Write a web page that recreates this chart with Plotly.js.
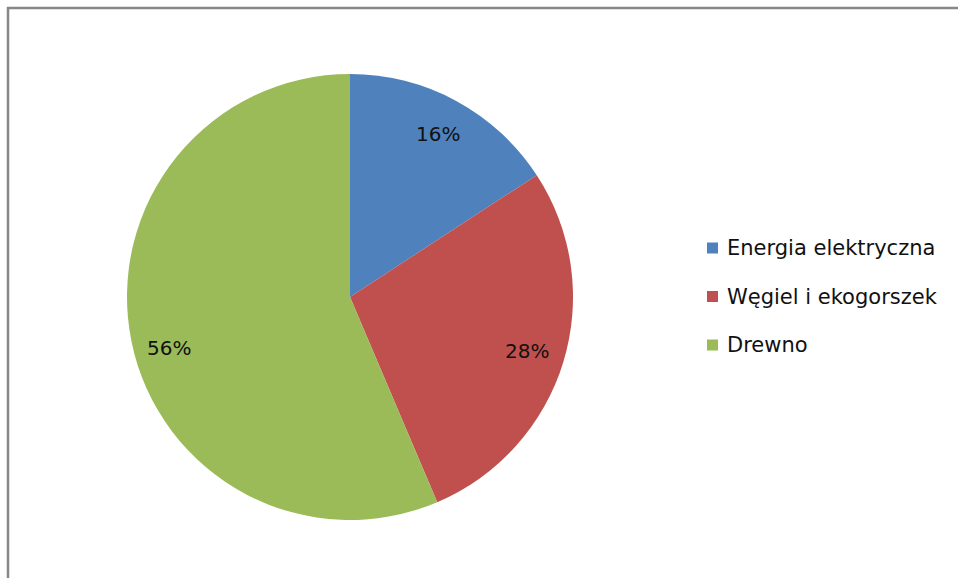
<!DOCTYPE html>
<html>
<head>
<meta charset="utf-8">
<script src="https://cdn.plot.ly/plotly-3.0.1.min.js"></script>
<style>html,body{margin:0;padding:0;background:#fff;}#chart{width:958px;height:578px;}</style>
</head>
<body>
<div id="chart"></div>
<script>
const labels = ['Energia elektryczna', 'Węgiel i ekogorszek', 'Drewno'];
const values = [15.8, 27.8, 56.4];
const colors = ['#4F81BD', '#C0504D', '#9BBB59'];

const W = 958, H = 578;
const cx = 350, cy = 297, r = 223;
const FONT = 'DejaVu Sans, sans-serif';

const total = values.reduce((a, b) => a + b, 0);
const annotations = [];
const shapes = [];

// slice labels computed from the data
let cum = 0;
const labelR = 0.83;
const labelYShift = [0, 0, -14];
values.forEach((v, i) => {
  const mid = (cum + v / 2) / total * 2 * Math.PI;
  cum += v;
  const px = cx + labelR * r * Math.sin(mid);
  const py = cy - labelR * r * Math.cos(mid);
  annotations.push({
    x: px / W, y: 1 - py / H, xref: 'paper', yref: 'paper',
    text: Math.round(v / total * 100) + '%', showarrow: false,
    xanchor: 'center', yanchor: 'middle', yshift: labelYShift[i],
    font: {family: FONT, size: 20, color: '#111111'}
  });
});

// legend
const legX = 707, legY0 = 248, legStep = 48.5, sq = 11;
labels.forEach((lab, i) => {
  const yc = legY0 + i * legStep;
  shapes.push({
    type: 'rect', xref: 'paper', yref: 'paper',
    x0: legX / W, x1: (legX + sq) / W,
    y0: 1 - (yc + sq / 2) / H, y1: 1 - (yc - sq / 2) / H,
    fillcolor: colors[i], line: {width: 0}
  });
  annotations.push({
    x: (legX + 18) / W, y: 1 - yc / H, xref: 'paper', yref: 'paper',
    text: lab, showarrow: false, xanchor: 'left', yanchor: 'middle',
    font: {family: FONT, size: 21, color: '#111111'}
  });
});

// frame (top and left edges)
shapes.push({type: 'line', xref: 'paper', yref: 'paper', x0: 7 / W, x1: 1, y0: 1 - 8 / H, y1: 1 - 8 / H, line: {color: '#878787', width: 2.5}});
shapes.push({type: 'line', xref: 'paper', yref: 'paper', x0: 8 / W, x1: 8 / W, y0: 0, y1: 1 - 7 / H, line: {color: '#878787', width: 2.5}});

const trace = {
  type: 'pie',
  labels: labels,
  values: values,
  marker: {colors: colors, line: {width: 0}},
  sort: false,
  direction: 'clockwise',
  rotation: 0,
  textinfo: 'none',
  hoverinfo: 'none',
  showlegend: false,
  domain: {x: [(cx - r) / W, (cx + r) / W], y: [1 - (cy + r) / H, 1 - (cy - r) / H]}
};

const layout = {
  width: W, height: H,
  margin: {l: 0, r: 0, t: 0, b: 0},
  paper_bgcolor: '#ffffff',
  showlegend: false,
  annotations: annotations,
  shapes: shapes
};

Plotly.newPlot('chart', [trace], layout, {displayModeBar: false, staticPlot: true});
</script>
</body>
</html>
